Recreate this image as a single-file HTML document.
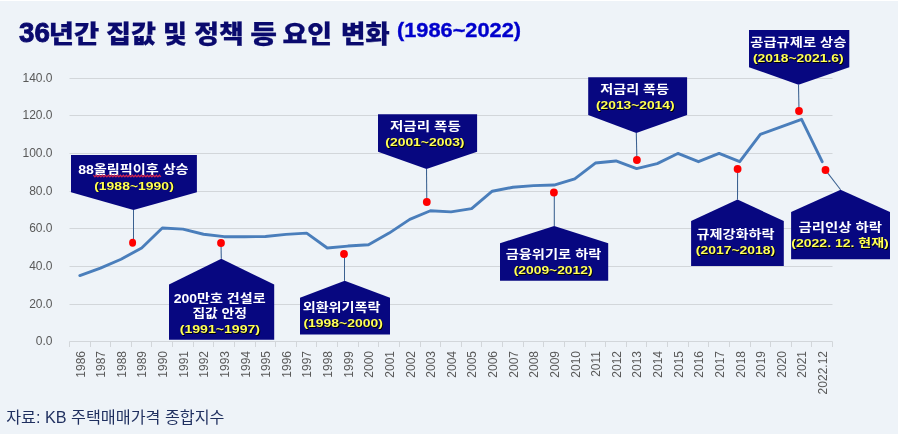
<!DOCTYPE html><html lang="ko"><head><meta charset="utf-8"><title>36년간 집값 및 정책 등 요인 변화</title>
<style>html,body{margin:0;padding:0;background:#eef3f8;}body{width:898px;height:434px;overflow:hidden;position:relative;font-family:"Liberation Sans","Noto Sans CJK KR",sans-serif;}svg{position:absolute;left:0;top:0;display:block}
text{font-family:"Liberation Sans","Noto Sans CJK KR",sans-serif;}
.ax{font-size:12px;fill:#595959;}
.cw{font-size:12.3px;font-weight:700;fill:#fff;}
.cy{font-size:11.8px;font-weight:700;fill:#ffff55;}
</style></head><body>
<svg width="898" height="434" viewBox="0 0 898 434">
<rect x="0" y="0" width="898" height="434" fill="#eef3f8"/>
<rect x="0" y="0" width="898" height="1" fill="#ffffff"/>
<line x1="69.5" y1="341.50" x2="832.5" y2="341.50" stroke="#d2d6da" stroke-width="1"/>
<text class="ax" x="52.5" y="345.20" text-anchor="end">0.0</text>
<line x1="69.5" y1="304.50" x2="832.5" y2="304.50" stroke="#d2d6da" stroke-width="1"/>
<text class="ax" x="52.5" y="308.20" text-anchor="end">20.0</text>
<line x1="69.5" y1="266.50" x2="832.5" y2="266.50" stroke="#d2d6da" stroke-width="1"/>
<text class="ax" x="52.5" y="270.20" text-anchor="end">40.0</text>
<line x1="69.5" y1="228.50" x2="832.5" y2="228.50" stroke="#d2d6da" stroke-width="1"/>
<text class="ax" x="52.5" y="232.20" text-anchor="end">60.0</text>
<line x1="69.5" y1="191.50" x2="832.5" y2="191.50" stroke="#d2d6da" stroke-width="1"/>
<text class="ax" x="52.5" y="195.20" text-anchor="end">80.0</text>
<line x1="69.5" y1="153.50" x2="832.5" y2="153.50" stroke="#d2d6da" stroke-width="1"/>
<text class="ax" x="52.5" y="157.20" text-anchor="end">100.0</text>
<line x1="69.5" y1="115.50" x2="832.5" y2="115.50" stroke="#d2d6da" stroke-width="1"/>
<text class="ax" x="52.5" y="119.20" text-anchor="end">120.0</text>
<line x1="69.5" y1="78.50" x2="832.5" y2="78.50" stroke="#d2d6da" stroke-width="1"/>
<text class="ax" x="52.5" y="82.20" text-anchor="end">140.0</text>
<line x1="69.50" y1="341.50" x2="69.50" y2="347.00" stroke="#d2d6da" stroke-width="1"/>
<line x1="90.50" y1="341.50" x2="90.50" y2="347.00" stroke="#d2d6da" stroke-width="1"/>
<line x1="110.50" y1="341.50" x2="110.50" y2="347.00" stroke="#d2d6da" stroke-width="1"/>
<line x1="131.50" y1="341.50" x2="131.50" y2="347.00" stroke="#d2d6da" stroke-width="1"/>
<line x1="151.50" y1="341.50" x2="151.50" y2="347.00" stroke="#d2d6da" stroke-width="1"/>
<line x1="172.50" y1="341.50" x2="172.50" y2="347.00" stroke="#d2d6da" stroke-width="1"/>
<line x1="193.50" y1="341.50" x2="193.50" y2="347.00" stroke="#d2d6da" stroke-width="1"/>
<line x1="213.50" y1="341.50" x2="213.50" y2="347.00" stroke="#d2d6da" stroke-width="1"/>
<line x1="234.50" y1="341.50" x2="234.50" y2="347.00" stroke="#d2d6da" stroke-width="1"/>
<line x1="255.50" y1="341.50" x2="255.50" y2="347.00" stroke="#d2d6da" stroke-width="1"/>
<line x1="275.50" y1="341.50" x2="275.50" y2="347.00" stroke="#d2d6da" stroke-width="1"/>
<line x1="296.50" y1="341.50" x2="296.50" y2="347.00" stroke="#d2d6da" stroke-width="1"/>
<line x1="316.50" y1="341.50" x2="316.50" y2="347.00" stroke="#d2d6da" stroke-width="1"/>
<line x1="337.50" y1="341.50" x2="337.50" y2="347.00" stroke="#d2d6da" stroke-width="1"/>
<line x1="358.50" y1="341.50" x2="358.50" y2="347.00" stroke="#d2d6da" stroke-width="1"/>
<line x1="378.50" y1="341.50" x2="378.50" y2="347.00" stroke="#d2d6da" stroke-width="1"/>
<line x1="399.50" y1="341.50" x2="399.50" y2="347.00" stroke="#d2d6da" stroke-width="1"/>
<line x1="420.50" y1="341.50" x2="420.50" y2="347.00" stroke="#d2d6da" stroke-width="1"/>
<line x1="440.50" y1="341.50" x2="440.50" y2="347.00" stroke="#d2d6da" stroke-width="1"/>
<line x1="461.50" y1="341.50" x2="461.50" y2="347.00" stroke="#d2d6da" stroke-width="1"/>
<line x1="481.50" y1="341.50" x2="481.50" y2="347.00" stroke="#d2d6da" stroke-width="1"/>
<line x1="502.50" y1="341.50" x2="502.50" y2="347.00" stroke="#d2d6da" stroke-width="1"/>
<line x1="523.50" y1="341.50" x2="523.50" y2="347.00" stroke="#d2d6da" stroke-width="1"/>
<line x1="543.50" y1="341.50" x2="543.50" y2="347.00" stroke="#d2d6da" stroke-width="1"/>
<line x1="564.50" y1="341.50" x2="564.50" y2="347.00" stroke="#d2d6da" stroke-width="1"/>
<line x1="585.50" y1="341.50" x2="585.50" y2="347.00" stroke="#d2d6da" stroke-width="1"/>
<line x1="605.50" y1="341.50" x2="605.50" y2="347.00" stroke="#d2d6da" stroke-width="1"/>
<line x1="626.50" y1="341.50" x2="626.50" y2="347.00" stroke="#d2d6da" stroke-width="1"/>
<line x1="646.50" y1="341.50" x2="646.50" y2="347.00" stroke="#d2d6da" stroke-width="1"/>
<line x1="667.50" y1="341.50" x2="667.50" y2="347.00" stroke="#d2d6da" stroke-width="1"/>
<line x1="688.50" y1="341.50" x2="688.50" y2="347.00" stroke="#d2d6da" stroke-width="1"/>
<line x1="708.50" y1="341.50" x2="708.50" y2="347.00" stroke="#d2d6da" stroke-width="1"/>
<line x1="729.50" y1="341.50" x2="729.50" y2="347.00" stroke="#d2d6da" stroke-width="1"/>
<line x1="750.50" y1="341.50" x2="750.50" y2="347.00" stroke="#d2d6da" stroke-width="1"/>
<line x1="770.50" y1="341.50" x2="770.50" y2="347.00" stroke="#d2d6da" stroke-width="1"/>
<line x1="791.50" y1="341.50" x2="791.50" y2="347.00" stroke="#d2d6da" stroke-width="1"/>
<line x1="811.50" y1="341.50" x2="811.50" y2="347.00" stroke="#d2d6da" stroke-width="1"/>
<line x1="832.50" y1="341.50" x2="832.50" y2="347.00" stroke="#d2d6da" stroke-width="1"/>
<text class="ax" transform="translate(84.61,351) rotate(-90)" text-anchor="end">1986</text>
<text class="ax" transform="translate(105.23,351) rotate(-90)" text-anchor="end">1987</text>
<text class="ax" transform="translate(125.85,351) rotate(-90)" text-anchor="end">1988</text>
<text class="ax" transform="translate(146.48,351) rotate(-90)" text-anchor="end">1989</text>
<text class="ax" transform="translate(167.10,351) rotate(-90)" text-anchor="end">1990</text>
<text class="ax" transform="translate(187.72,351) rotate(-90)" text-anchor="end">1991</text>
<text class="ax" transform="translate(208.34,351) rotate(-90)" text-anchor="end">1992</text>
<text class="ax" transform="translate(228.96,351) rotate(-90)" text-anchor="end">1993</text>
<text class="ax" transform="translate(249.58,351) rotate(-90)" text-anchor="end">1994</text>
<text class="ax" transform="translate(270.21,351) rotate(-90)" text-anchor="end">1995</text>
<text class="ax" transform="translate(290.83,351) rotate(-90)" text-anchor="end">1996</text>
<text class="ax" transform="translate(311.45,351) rotate(-90)" text-anchor="end">1997</text>
<text class="ax" transform="translate(332.07,351) rotate(-90)" text-anchor="end">1998</text>
<text class="ax" transform="translate(352.69,351) rotate(-90)" text-anchor="end">1999</text>
<text class="ax" transform="translate(373.31,351) rotate(-90)" text-anchor="end">2000</text>
<text class="ax" transform="translate(393.94,351) rotate(-90)" text-anchor="end">2001</text>
<text class="ax" transform="translate(414.56,351) rotate(-90)" text-anchor="end">2002</text>
<text class="ax" transform="translate(435.18,351) rotate(-90)" text-anchor="end">2003</text>
<text class="ax" transform="translate(455.80,351) rotate(-90)" text-anchor="end">2004</text>
<text class="ax" transform="translate(476.42,351) rotate(-90)" text-anchor="end">2005</text>
<text class="ax" transform="translate(497.04,351) rotate(-90)" text-anchor="end">2006</text>
<text class="ax" transform="translate(517.66,351) rotate(-90)" text-anchor="end">2007</text>
<text class="ax" transform="translate(538.29,351) rotate(-90)" text-anchor="end">2008</text>
<text class="ax" transform="translate(558.91,351) rotate(-90)" text-anchor="end">2009</text>
<text class="ax" transform="translate(579.53,351) rotate(-90)" text-anchor="end">2010</text>
<text class="ax" transform="translate(600.15,351) rotate(-90)" text-anchor="end">2011</text>
<text class="ax" transform="translate(620.77,351) rotate(-90)" text-anchor="end">2012</text>
<text class="ax" transform="translate(641.39,351) rotate(-90)" text-anchor="end">2013</text>
<text class="ax" transform="translate(662.02,351) rotate(-90)" text-anchor="end">2014</text>
<text class="ax" transform="translate(682.64,351) rotate(-90)" text-anchor="end">2015</text>
<text class="ax" transform="translate(703.26,351) rotate(-90)" text-anchor="end">2016</text>
<text class="ax" transform="translate(723.88,351) rotate(-90)" text-anchor="end">2017</text>
<text class="ax" transform="translate(744.50,351) rotate(-90)" text-anchor="end">2018</text>
<text class="ax" transform="translate(765.12,351) rotate(-90)" text-anchor="end">2019</text>
<text class="ax" transform="translate(785.75,351) rotate(-90)" text-anchor="end">2020</text>
<text class="ax" transform="translate(806.37,351) rotate(-90)" text-anchor="end">2021</text>
<text class="ax" transform="translate(826.99,351) rotate(-90)" text-anchor="end">2022.12</text>
<polyline points="79.81,275.56 100.43,268.05 121.05,259.22 141.68,247.95 162.30,228.03 182.92,229.16 203.54,234.23 224.16,236.68 244.78,236.68 265.41,236.49 286.03,234.42 306.65,233.11 327.27,247.95 347.89,246.07 368.51,244.75 389.14,233.11 409.76,219.39 430.38,210.75 451.00,211.88 471.62,208.68 492.24,191.21 512.86,187.27 533.49,185.58 554.11,185.02 574.73,178.82 595.35,163.04 615.97,160.97 636.59,168.67 657.22,163.60 677.84,153.46 698.46,161.72 719.08,153.46 739.70,161.72 760.32,134.29 780.95,126.78 801.57,119.27 822.19,161.72" fill="none" stroke="#4a7ebb" stroke-width="2.9" stroke-linejoin="round" stroke-linecap="round"/>
<line x1="133.5" y1="210.0" x2="133.5" y2="242.8" stroke="#3a6090" stroke-width="1.05"/>
<line x1="221.3" y1="258.8" x2="221.0" y2="243.0" stroke="#3a6090" stroke-width="1.05"/>
<line x1="344.5" y1="280.8" x2="344.5" y2="254.0" stroke="#3a6090" stroke-width="1.05"/>
<line x1="426.5" y1="169.1" x2="426.8" y2="201.9" stroke="#3a6090" stroke-width="1.05"/>
<line x1="554.3" y1="226.0" x2="554.3" y2="192.6" stroke="#3a6090" stroke-width="1.05"/>
<line x1="636.3" y1="132.9" x2="636.9" y2="160.0" stroke="#3a6090" stroke-width="1.05"/>
<line x1="798.5" y1="84.8" x2="799.0" y2="111.1" stroke="#3a6090" stroke-width="1.05"/>
<line x1="737.5" y1="199.6" x2="737.6" y2="169.1" stroke="#3a6090" stroke-width="1.05"/>
<line x1="840.6" y1="189.8" x2="825.5" y2="170.1" stroke="#3a6090" stroke-width="1.05"/>
<polygon points="71.0,155.0 196.9,155.0 196.9,192.2 133.5,210.0 71.0,192.2" fill="#070780"/>
<ellipse cx="132.6" cy="242.8" rx="3.5" ry="4.0" fill="#ff0000"/>
<text class="cw" x="78.15" y="174.40" textLength="110.45" lengthAdjust="spacingAndGlyphs">88올림픽이후 상승</text>
<text class="cy" x="94.20" y="189.75" textLength="79.60" lengthAdjust="spacingAndGlyphs" style="text-shadow:0.7px 0.7px 0.6px #000">(1988~1990)</text>
<polygon points="169.0,339.8 169.0,284.5 221.3,258.8 274.2,284.5 274.2,339.8" fill="#070780"/>
<ellipse cx="221.0" cy="243.0" rx="3.9" ry="4.0" fill="#ff0000"/>
<text class="cw" x="173.65" y="302.95" textLength="91.95" lengthAdjust="spacingAndGlyphs">200만호 건설로</text>
<text class="cw" x="192.40" y="318.30" textLength="54.45" lengthAdjust="spacingAndGlyphs">집값 안정</text>
<text class="cy" x="179.70" y="333.10" textLength="80.35" lengthAdjust="spacingAndGlyphs" style="text-shadow:0.7px 0.7px 0.6px #000">(1991~1997)</text>
<polygon points="300.0,334.5 300.0,297.7 344.7,280.8 390.0,297.7 390.0,334.5" fill="#070780"/>
<ellipse cx="344.0" cy="254.0" rx="3.9" ry="4.0" fill="#ff0000"/>
<text class="cw" x="302.65" y="311.90" textLength="77.95" lengthAdjust="spacingAndGlyphs">외환위기폭락</text>
<text class="cy" x="303.45" y="327.30" textLength="79.35" lengthAdjust="spacingAndGlyphs" style="text-shadow:0.7px 0.7px 0.6px #000">(1998~2000)</text>
<polygon points="378.0,114.2 477.1,114.2 477.1,151.8 426.5,169.1 378.0,151.8" fill="#070780"/>
<ellipse cx="426.8" cy="201.9" rx="3.9" ry="4.0" fill="#ff0000"/>
<text class="cw" x="390.00" y="130.75" textLength="70.80" lengthAdjust="spacingAndGlyphs">저금리 폭등</text>
<text class="cy" x="385.30" y="146.10" textLength="79.20" lengthAdjust="spacingAndGlyphs" style="text-shadow:0.7px 0.7px 0.6px #000">(2001~2003)</text>
<polygon points="500.0,280.8 500.0,243.2 554.2,226.0 608.2,243.2 608.2,280.8" fill="#070780"/>
<ellipse cx="553.9" cy="192.6" rx="3.9" ry="4.0" fill="#ff0000"/>
<text class="cw" x="505.65" y="258.55" textLength="95.70" lengthAdjust="spacingAndGlyphs">금융위기로 하락</text>
<text class="cy" x="513.70" y="274.45" textLength="78.85" lengthAdjust="spacingAndGlyphs" style="text-shadow:0.7px 0.7px 0.6px #000">(2009~2012)</text>
<polygon points="588.2,77.2 687.1,77.2 687.1,115.1 636.3,132.9 588.2,115.1" fill="#070780"/>
<ellipse cx="636.9" cy="160.0" rx="3.9" ry="4.0" fill="#ff0000"/>
<text class="cw" x="600.20" y="93.75" textLength="68.90" lengthAdjust="spacingAndGlyphs">저금리 폭등</text>
<text class="cy" x="596.00" y="108.90" textLength="78.50" lengthAdjust="spacingAndGlyphs" style="text-shadow:0.7px 0.7px 0.6px #000">(2013~2014)</text>
<polygon points="749.0,30.1 849.3,30.1 849.3,67.2 798.5,84.8 749.0,67.2" fill="#070780"/>
<ellipse cx="799.0" cy="111.1" rx="3.9" ry="4.0" fill="#ff0000"/>
<text class="cw" x="750.30" y="46.80" textLength="96.00" lengthAdjust="spacingAndGlyphs">공급규제로 상승</text>
<text class="cy" x="753.00" y="62.10" textLength="90.60" lengthAdjust="spacingAndGlyphs" style="text-shadow:0.7px 0.7px 0.6px #000">(2018~2021.6)</text>
<polygon points="691.1,266.1 691.1,221.0 737.5,199.6 783.8,221.0 783.8,266.1" fill="#070780"/>
<ellipse cx="737.6" cy="169.1" rx="3.9" ry="4.0" fill="#ff0000"/>
<text class="cw" x="696.40" y="238.60" textLength="78.20" lengthAdjust="spacingAndGlyphs">규제강화하락</text>
<text class="cy" x="695.80" y="254.00" textLength="79.40" lengthAdjust="spacingAndGlyphs" style="text-shadow:0.7px 0.7px 0.6px #000">(2017~2018)</text>
<polygon points="791.1,259.3 791.1,211.9 840.6,189.8 890.0,211.9 890.0,259.3" fill="#070780"/>
<ellipse cx="825.5" cy="170.1" rx="3.9" ry="4.0" fill="#ff0000"/>
<text class="cw" x="798.50" y="231.50" textLength="83.50" lengthAdjust="spacingAndGlyphs">금리인상 하락</text>
<text class="cy" x="791.30" y="246.95" textLength="97.50" lengthAdjust="spacingAndGlyphs" style="text-shadow:0.7px 0.7px 0.6px #000">(2022. 12. 현재)</text>
<polyline points="93.4,175.1 94.9,176.9 96.4,175.1 97.9,176.9 99.4,175.1 100.9,176.9 102.4,175.1 103.9,176.9 105.4,175.1 106.9,176.9 108.4,175.1 109.9,176.9 111.4,175.1 112.9,176.9 114.4,175.1 115.9,176.9 117.4,175.1 118.9,176.9 120.4,175.1 121.9,176.9 123.4,175.1 124.9,176.9 126.4,175.1 127.9,176.9 129.4,175.1 130.9,176.9 132.4,175.1 133.9,176.9 135.4,175.1 136.9,176.9 138.4,175.1 139.9,176.9 141.4,175.1 142.9,176.9 144.4,175.1 145.9,176.9 147.4,175.1 148.9,176.9 150.4,175.1 151.9,176.9 153.4,175.1 154.9,176.9 156.4,175.1 157.9,176.9 159.4,175.1 160.9,176.9" fill="none" stroke="#d8284e" stroke-width="1.2"/>
<text id="title" y="43.3" style="font-weight:900;fill:#0a0a6e"><tspan x="19.1" y="42.0" font-size="28" textLength="30.8" lengthAdjust="spacingAndGlyphs" stroke="#0a0a6e" stroke-width="0.9">36</tspan><tspan x="48.8" y="43.3" font-size="25" textLength="50.4" lengthAdjust="spacingAndGlyphs" stroke="#0a0a6e" stroke-width="0.25">년간</tspan> <tspan x="106.0" y="43.3" font-size="25" textLength="50.0" lengthAdjust="spacingAndGlyphs" stroke="#0a0a6e" stroke-width="0.25">집값</tspan> <tspan x="163.1" y="43.3" font-size="25" textLength="23.9" lengthAdjust="spacingAndGlyphs" stroke="#0a0a6e" stroke-width="0.25">및</tspan> <tspan x="194.3" y="43.3" font-size="25" textLength="49.5" lengthAdjust="spacingAndGlyphs" stroke="#0a0a6e" stroke-width="0.25">정책</tspan> <tspan x="250.3" y="43.3" font-size="25" textLength="26.7" lengthAdjust="spacingAndGlyphs" stroke="#0a0a6e" stroke-width="0.25">등</tspan> <tspan x="282.6" y="43.3" font-size="25" textLength="49.5" lengthAdjust="spacingAndGlyphs" stroke="#0a0a6e" stroke-width="0.25">요인</tspan> <tspan x="340.9" y="43.3" font-size="25" textLength="48.9" lengthAdjust="spacingAndGlyphs" stroke="#0a0a6e" stroke-width="0.25">변화</tspan></text>
<text x="397" y="36.7" textLength="124" lengthAdjust="spacingAndGlyphs" style="font-size:19.5px;font-weight:700;fill:#0000cc;stroke:#0000cc;stroke-width:0.35px" id="sub">(1986~2022)</text>
<text x="6.2" y="423.4" textLength="218.3" lengthAdjust="spacingAndGlyphs" style="font-size:16px;fill:#1f2f5f" id="foot">자료: KB 주택매매가격 종합지수</text>
</svg></body></html>
